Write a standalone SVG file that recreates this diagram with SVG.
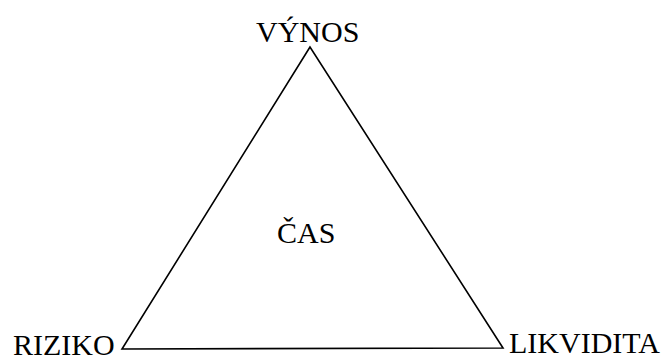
<svg xmlns="http://www.w3.org/2000/svg" width="669" height="358" viewBox="0 0 669 358">
<style>
text{font-family:"Liberation Serif","Times New Roman",serif;font-size:30px;fill:#000}
.edge{fill:none;stroke:#000;stroke-width:1.6}
</style>
<rect width="669" height="358" fill="#fff"/>
<g id="connectors">
<polygon class="edge" points="310,47 122,349 503,348"/>
</g>
<g id="vynos"><text x="256" y="42">VÝNOS</text></g>
<g id="riziko"><text x="13" y="355">RIZIKO</text></g>
<g id="likvidita"><text x="509" y="353">LIKVIDITA</text></g>
<g id="cas"><text x="277" y="243">ČAS</text></g>
</svg>
